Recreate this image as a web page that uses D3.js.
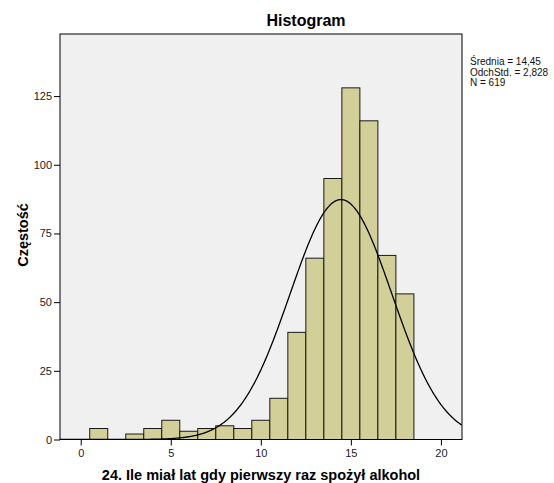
<!DOCTYPE html>
<html>
<head>
<meta charset="utf-8">
<script src="https://cdn.jsdelivr.net/npm/d3@7"></script>
<style>
  body { margin: 0; background: #fff; }
  text { font-family: "Liberation Sans", Arial, sans-serif; }
</style>
</head>
<body>
<svg id="chart" width="554" height="483"></svg>
<script>
// bin centres (age) and counts
const binCenters = [1, 2, 3, 4, 5, 6, 7, 8, 9, 10, 11, 12, 13, 14, 15, 16, 17, 18];
const binCounts = [4, 0, 2, 4, 7, 3, 4, 5, 4, 7, 15, 39, 66, 95, 128, 116, 67, 53];
const xTicks = [0, 5, 10, 15, 20];
const yTicks = [0, 25, 50, 75, 100, 125];
const statLines = ["Średnia = 14,45", "OdchStd. = 2,828", "N = 619"];
const mean = 14.45, sd = 2.828, n = 619;

const svg = d3.select("#chart");
const plot = { left: 60, top: 34, right: 462, bottom: 439.5 };

const x = d3.scaleLinear().domain([-1.15, 21.17]).range([plot.left, plot.right]);
const y = d3.scaleLinear().domain([0, 147.6]).range([plot.bottom, plot.top]);

// plot background
svg.append("rect")
  .attr("x", plot.left).attr("y", plot.top)
  .attr("width", plot.right - plot.left).attr("height", plot.bottom - plot.top)
  .attr("fill", "#f0f0f0");

svg.append("defs").append("clipPath").attr("id", "clip")
  .append("rect")
  .attr("x", plot.left).attr("y", plot.top)
  .attr("width", plot.right - plot.left).attr("height", plot.bottom - plot.top);

// bars
const data = binCenters.map((c, i) => ({ c, v: binCounts[i] })).filter((d) => d.v > 0);
svg.append("g").selectAll("rect").data(data).join("rect")
  .attr("x", (d) => x(d.c - 0.5))
  .attr("y", (d) => y(d.v))
  .attr("width", (d) => x(d.c + 0.5) - x(d.c - 0.5))
  .attr("height", (d) => y(0) - y(d.v))
  .attr("fill", "#d3cf98")
  .attr("stroke", "#1a1a1a")
  .attr("stroke-width", 1);

// fitted normal curve (from stated mean / sd / N, bin width 1)
const pdf = (t) => n * Math.exp(-0.5 * ((t - mean) / sd) ** 2) / (sd * Math.sqrt(2 * Math.PI));
const curvePts = d3.range(-1.15, 21.2, 0.05).map((t) => [t, pdf(t)]);
svg.append("path")
  .attr("clip-path", "url(#clip)")
  .attr("d", d3.line().x((d) => x(d[0])).y((d) => y(d[1]))(curvePts))
  .attr("fill", "none")
  .attr("stroke", "#000")
  .attr("stroke-width", 1.3);

// frame
svg.append("rect")
  .attr("x", plot.left).attr("y", plot.top)
  .attr("width", plot.right - plot.left).attr("height", plot.bottom - plot.top)
  .attr("fill", "none")
  .attr("stroke", "#000")
  .attr("stroke-width", 1);

// axes
const xAxis = svg.append("g")
  .attr("transform", `translate(0,${plot.bottom})`)
  .call(d3.axisBottom(x).tickValues(xTicks).tickSize(6).tickPadding(4));
const yAxis = svg.append("g")
  .attr("transform", `translate(${plot.left},0)`)
  .call(d3.axisLeft(y).tickValues(yTicks).tickSize(6).tickPadding(2));

[xAxis, yAxis].forEach((g) => {
  g.select(".domain").remove();
  g.selectAll(".tick line").attr("stroke", "#000");
  g.selectAll(".tick text")
    .attr("fill", "#222")
    .style("font-size", "11px")
    .style("font-family", "Liberation Sans, Arial, sans-serif");
});

// titles
svg.append("text")
  .attr("x", 306).attr("y", 26)
  .attr("text-anchor", "middle")
  .style("font-size", "16px").style("font-weight", "bold")
  .text("Histogram");

svg.append("text")
  .attr("x", 261).attr("y", 480)
  .attr("text-anchor", "middle")
  .style("font-size", "14.5px").style("font-weight", "bold")
  .text("24. Ile miał lat gdy pierwszy raz spożył alkohol");

svg.append("text")
  .attr("transform", "translate(28,235) rotate(-90)")
  .attr("text-anchor", "middle")
  .style("font-size", "14.5px").style("font-weight", "bold")
  .text("Częstość");

// stats box text
svg.append("g").selectAll("text").data(statLines).join("text")
  .attr("x", 470)
  .attr("y", (d, i) => 65 + i * 10.5)
  .style("font-size", "10px")
  .attr("fill", "#111")
  .text((d) => d);
</script>
</body>
</html>
